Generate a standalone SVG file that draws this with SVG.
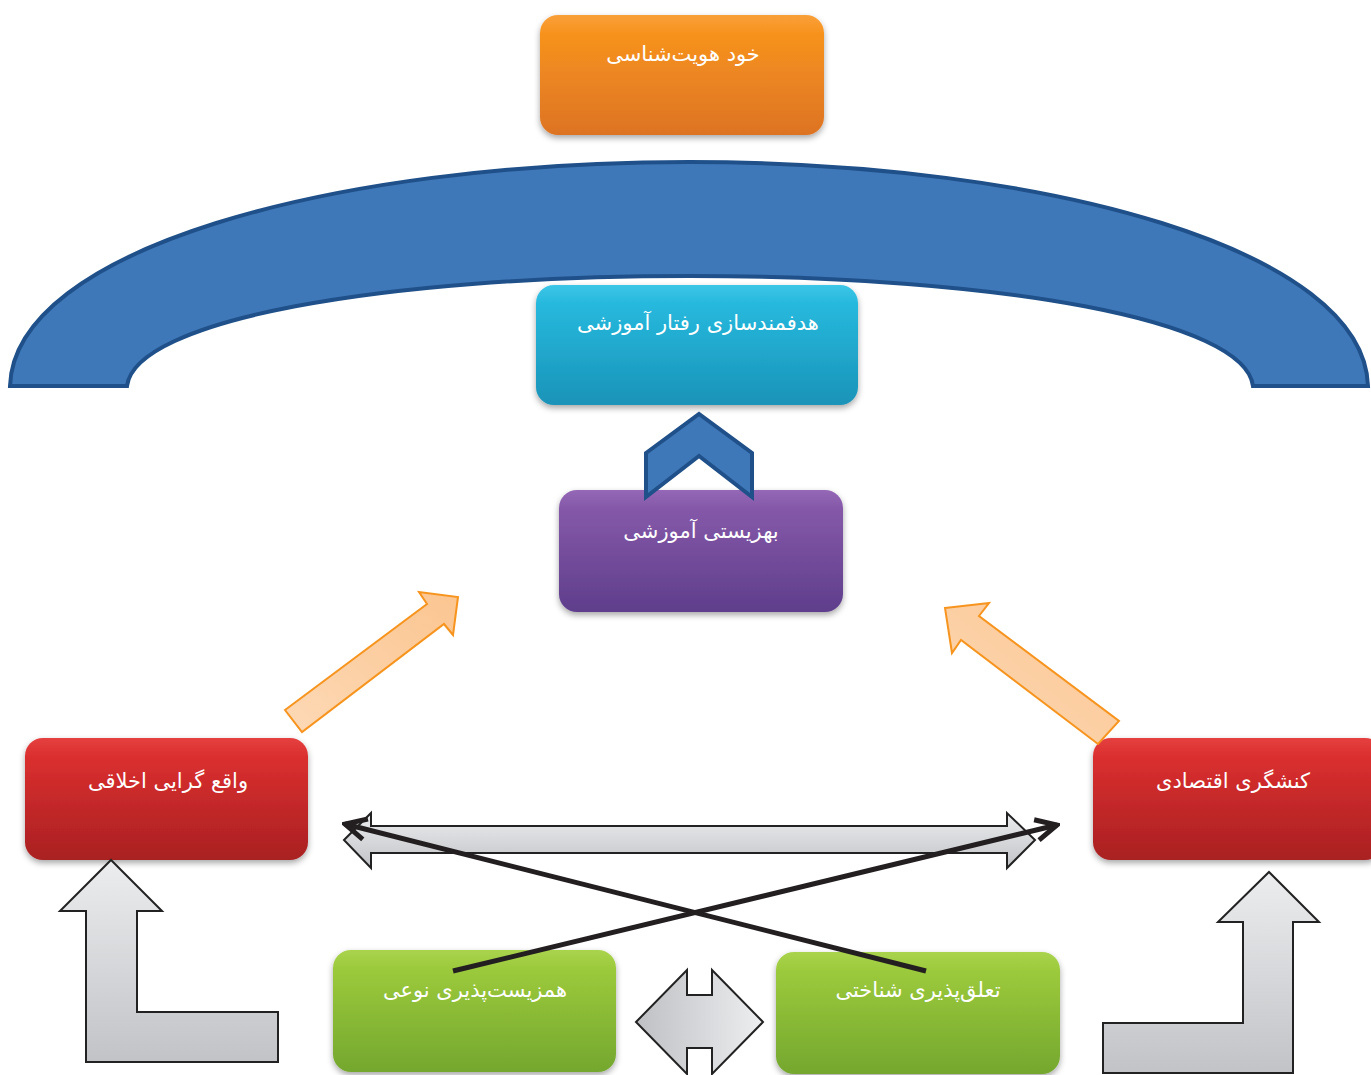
<svg xmlns="http://www.w3.org/2000/svg" width="1371" height="1075" viewBox="0 0 1371 1075">
<defs>
<linearGradient id="gOrange" x1="0" y1="0" x2="0" y2="1"><stop offset="0" stop-color="#F9A03A"/><stop offset="0.15" stop-color="#F7931E"/><stop offset="1" stop-color="#DD7324"/></linearGradient>
<linearGradient id="gCyan" x1="0" y1="0" x2="0" y2="1"><stop offset="0" stop-color="#3CC6E6"/><stop offset="0.15" stop-color="#27B9DE"/><stop offset="1" stop-color="#1A93B8"/></linearGradient>
<linearGradient id="gPurple" x1="0" y1="0" x2="0" y2="1"><stop offset="0" stop-color="#9468B6"/><stop offset="0.15" stop-color="#8558A9"/><stop offset="1" stop-color="#5F3E8C"/></linearGradient>
<linearGradient id="gRed" x1="0" y1="0" x2="0" y2="1"><stop offset="0" stop-color="#E5403F"/><stop offset="0.15" stop-color="#DB2F2F"/><stop offset="1" stop-color="#A92022"/></linearGradient>
<linearGradient id="gGreen" x1="0" y1="0" x2="0" y2="1"><stop offset="0" stop-color="#A9D34D"/><stop offset="0.15" stop-color="#9CCA3C"/><stop offset="1" stop-color="#74A72E"/></linearGradient>
<linearGradient id="gPeach" x1="0" y1="1" x2="1" y2="0"><stop offset="0" stop-color="#FDD9B6"/><stop offset="1" stop-color="#FBC590"/></linearGradient>
<linearGradient id="gGray" x1="0" y1="0" x2="0" y2="1"><stop offset="0" stop-color="#ECEDEF"/><stop offset="1" stop-color="#C2C3C6"/></linearGradient>
<linearGradient id="gGrayH" x1="0" y1="0" x2="1" y2="0"><stop offset="0" stop-color="#BFC0C3"/><stop offset="1" stop-color="#EDEEF0"/></linearGradient>
<filter id="sh" x="-10%" y="-10%" width="120%" height="130%"><feDropShadow dx="0" dy="3" stdDeviation="3" flood-color="#000" flood-opacity="0.35"/></filter>
<marker id="open" viewBox="0 0 20 20" refX="18" refY="10" markerWidth="6" markerHeight="6" orient="auto-start-reverse" markerUnits="strokeWidth">
<path d="M4,3 L18,10 L4,17" fill="none" stroke="#231F20" stroke-width="3.3" stroke-linecap="butt" stroke-linejoin="miter"/>
</marker>
</defs>
<style>
.box{filter:url(#sh);}
.lbl{font-family:"DejaVu Sans","Noto Sans",sans-serif;font-size:21px;fill:#FFFFFF;text-anchor:middle;}
.blue{fill:#3F78B8;stroke:#1F5089;stroke-width:4;stroke-linejoin:miter;}
.peach{fill:url(#gPeach);stroke:#F7941E;stroke-width:2;}
.gray{stroke:#222;stroke-width:2;}
</style>

<g id="arch">
<path class="blue" d="M10,386 C14,250 330,162 689,162 C1048,162 1364,250 1368,386 L1253,386 C1245,320 1000,276 690,276 C380,276 135,320 127,386 Z"/>
</g>

<g id="node-selfidentity">
<rect class="box" x="540" y="15" width="284" height="120" rx="18" fill="url(#gOrange)"/>
<text class="lbl" x="683" y="61" direction="rtl">خود هویت‌شناسی</text>
</g>

<g id="node-targeting">
<rect class="box" x="536" y="285" width="322" height="120" rx="18" fill="url(#gCyan)"/>
<text class="lbl" x="698" y="330" direction="rtl">هدفمندسازی رفتار آموزشی</text>
</g>

<g id="node-wellbeing">
<rect class="box" x="559" y="490" width="284" height="122" rx="18" fill="url(#gPurple)"/>
<text class="lbl" x="701" y="538" direction="rtl">بهزیستی آموزشی</text>
</g>

<g id="chevron">
<polygon class="blue" points="646,453 699,414 752,453 752,497 699,456 646,497"/>
</g>

<g id="node-moral">
<rect class="box" x="25" y="738" width="283" height="122" rx="18" fill="url(#gRed)"/>
<text class="lbl" x="168" y="788" direction="rtl">واقع گرایی اخلاقی</text>
</g>

<g id="node-economic">
<rect class="box" x="1093" y="738" width="290" height="122" rx="18" fill="url(#gRed)"/>
<text class="lbl" x="1233" y="788" direction="rtl">کنشگری اقتصادی</text>
</g>

<g id="node-coexistence">
<rect class="box" x="333" y="950" width="283" height="122" rx="18" fill="url(#gGreen)"/>
<text class="lbl" x="475" y="997" direction="rtl">همزیست‌پذیری نوعی</text>
</g>

<g id="node-belonging">
<rect class="box" x="776" y="952" width="284" height="122" rx="18" fill="url(#gGreen)"/>
<text class="lbl" x="918" y="997" direction="rtl">تعلق‌پذیری شناختی</text>
</g>

<g id="connectors">
<polygon class="peach" points="285,710 427,604 419,592 458,597 453,635 444,624 302,732"/>
<polygon class="peach" points="945,608 989,603 979,616 1119,721 1098,744 961,640 952,653"/>
<polygon class="gray" fill="url(#gGray)" points="111,860 162,911 137,911 137,1012 278,1012 278,1062 86,1062 86,911 60,911"/>
<polygon class="gray" fill="url(#gGray)" points="1269,872 1319,922 1293,922 1293,1073 1103,1073 1103,1023 1243,1023 1243,922 1218,922"/>
<polygon class="gray" fill="url(#gGray)" points="344,840 371,813 371,826 1007,826 1007,813 1035,840 1007,868 1007,853 371,853 371,868"/>
<polygon class="gray" fill="url(#gGrayH)" points="636,1022 687,970 687,995 712,995 712,970 763,1022 712,1074 712,1048 687,1048 687,1074"/>
<line x1="453" y1="971" x2="1057" y2="825" stroke="#231F20" stroke-width="5" marker-end="url(#open)"/>
<line x1="926" y1="971" x2="345" y2="824" stroke="#231F20" stroke-width="5" marker-end="url(#open)"/>
</g>
</svg>
